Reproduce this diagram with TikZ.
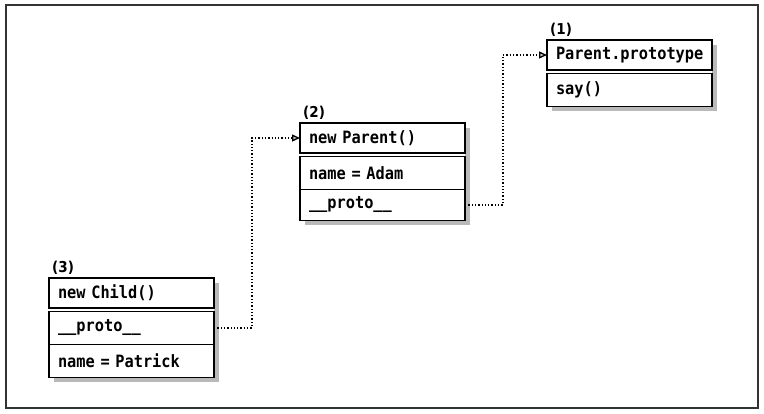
\documentclass[tikz,border=0pt]{standalone}
\usepackage{fontspec}
\setmonofont{DejaVu Sans Mono}[FakeStretch=0.9]
\newfontfamily\tagfont{DejaVu Sans Condensed}
\usetikzlibrary{
	arrows.meta,
	positioning,
	backgrounds
}
\tikzset{
    slot/.style={draw, line width=1.6pt, fill=white, outer sep=0pt, anchor=north west,
        minimum height=33pt, text width=147pt, inner xsep=9pt, align=left,
        font=\fontsize{17}{19}\selectfont\ttfamily\bfseries},
    head/.style={slot, minimum height=30pt},
    tag/.style={font=\fontsize{15}{16}\selectfont\tagfont\bfseries, inner sep=0pt},
    link/.style={dotted, line width=1.3pt, -{Triangle[length=8pt, width=7pt, fill=gray!45]}},
    shade/.style={fill=gray!55}
}
\begin{document}
\begin{tikzpicture}[x=1pt,y=-1pt]
    % Definitions
    \useasboundingbox (0,0) rectangle (764,414);
    \draw[line width=1.2pt, black!80] (6,5) rectangle (758,408);
    % Parent.prototype
    \node[head] (p1-head) at (547,40) {Parent.prototype};
    \node[slot, below=3.5pt of p1-head.south west, anchor=north west] (p1-say) {say()};
    \node[tag, above right=3pt and 3pt of p1-head.north west] (p1-tag) {(1)};
    % new Parent()
    \node[head] (p2-head) at (300,123) {new Parent()};
    \node[slot, below=3.5pt of p2-head.south west, anchor=north west] (p2-name) {name = Adam};
    \node[slot, below=0pt of p2-name.south west, anchor=north west, minimum height=31pt] (p2-proto) {\_\_proto\_\_};
    \node[tag, above right=3pt and 3pt of p2-head.north west] (p2-tag) {(2)};
    % new Child()
    \node[head] (c3-head) at (49,278) {new Child()};
    \node[slot, below=3.5pt of c3-head.south west, anchor=north west] (c3-proto) {\_\_proto\_\_};
    \node[slot, below=0pt of c3-proto.south west, anchor=north west] (c3-name) {name = Patrick};
    \node[tag, above right=3pt and 3pt of c3-head.north west] (c3-tag) {(3)};
    % Shadows
    \begin{scope}[on background layer]
        \foreach \top/\bot in {p1-head/p1-say, p2-head/p2-proto, c3-head/c3-name} {
            \fill[shade] ([xshift=5pt,yshift=-5pt]\top.north west) rectangle ([xshift=5pt,yshift=-5pt]\bot.south east);
            \fill[white] (\top.north west) rectangle (\bot.south east);
        }
    \end{scope}
    % Prototype links
    \draw[link] (c3-proto.east) -- ++(38,0) |- (p2-head.west);
    \draw[link] (p2-proto.east) -- ++(38,0) |- (p1-head.west);
\end{tikzpicture}
\end{document}
